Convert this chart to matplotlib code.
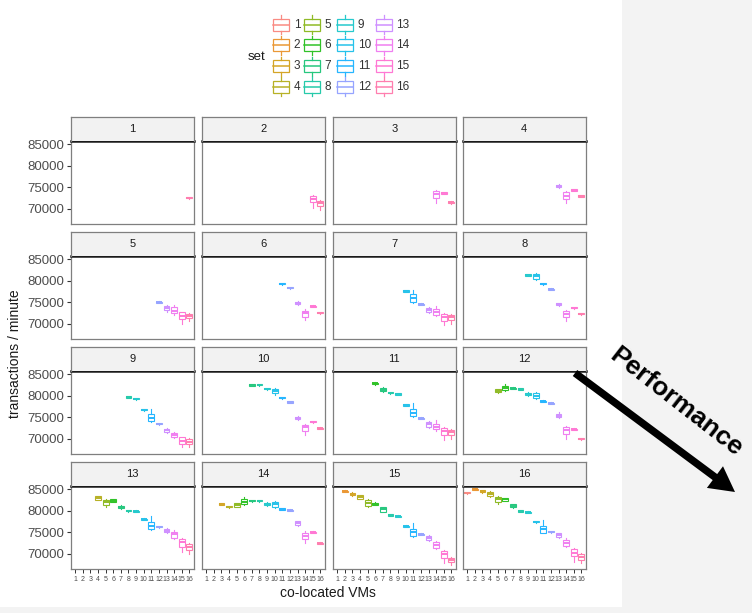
import numpy as np
import matplotlib
matplotlib.use('Agg')
import matplotlib.pyplot as plt
from matplotlib.patches import Rectangle, FancyArrow

plt.rcParams['font.family'] = ['Liberation Sans', 'DejaVu Sans']

# ---------------- data ----------------
sets = list(range(1, 17))
x_labels = [str(i) for i in sets]
y_ticks = [70000, 75000, 80000, 85000]
y_tick_labels = ['70000', '75000', '80000', '85000']
facet_labels = [str(i) for i in range(1, 17)]

# each tuple: (whisker low, q1, median, q3, whisker high); facet k holds VMs 17-k .. 16
f1 = [(72300, 72400, 72570, 72750, 72850)]
f2 = [(70080, 71640, 72180, 72960, 73190), (69700, 70700, 71250, 71870, 72030)]
f3 = [(71250, 72410, 73350, 74120, 74350), (73450, 73550, 73730, 73900, 74000),
      (71200, 71300, 71480, 71650, 71750)]
f4 = [(74900, 75050, 75290, 75550, 75700), (71250, 72180, 73030, 73810, 74120),
      (74100, 74200, 74350, 74500, 74600), (72750, 72850, 73030, 73200, 73300)]
f5 = [(74750, 74850, 74980, 75120, 75220), (72800, 73110, 73580, 74040, 74350),
      (72030, 72410, 72960, 73890, 74350), (69850, 71010, 71870, 72640, 72800),
      (70630, 71250, 71870, 72260, 72410)]
f6 = [(79100, 79200, 79330, 79450, 79550), (78170, 78270, 78400, 78520, 78620),
      (74450, 74600, 74820, 75050, 75200), (70860, 71640, 72410, 73030, 73420),
      (73900, 74000, 74120, 74250, 74350), (72350, 72450, 72570, 72700, 72800)]
f7 = [(77400, 77500, 77620, 77750, 77850), (74820, 74980, 76060, 76840, 77850),
      (74370, 74470, 74590, 74720, 74820), (72410, 72640, 73190, 73730, 73960),
      (71870, 72030, 72800, 73420, 74200), (69700, 70700, 71640, 72330, 72570),
      (69850, 70780, 71480, 72030, 72180)]
f8 = [(81130, 81230, 81350, 81480, 81580), (80180, 80340, 81110, 81660, 81890),
      (79100, 79200, 79330, 79450, 79550), (77780, 77880, 78000, 78130, 78230),
      (74150, 74300, 74510, 74750, 74900), (70630, 71560, 72330, 72960, 73190),
      (73500, 73600, 73730, 73860, 73960), (72100, 72200, 72330, 72460, 72560)]
f9 = [(79500, 79600, 79720, 79850, 79950), (79100, 79200, 79330, 79450, 79550),
      (76540, 76640, 76760, 76890, 76990), (73960, 74120, 74900, 75680, 76840),
      (73280, 73380, 73500, 73630, 73730), (71400, 71640, 72030, 72330, 72570),
      (70240, 70470, 70860, 71250, 71480), (68140, 68760, 69540, 70310, 70470),
      (67980, 68760, 69300, 69930, 70240)]
f10 = [(82290, 82390, 82510, 82640, 82740), (82370, 82470, 82590, 82720, 82820),
       (81440, 81540, 81660, 81790, 81890), (80180, 80570, 81110, 81660, 81890),
       (79340, 79440, 79560, 79690, 79790), (78330, 78430, 78550, 78680, 78780),
       (74350, 74510, 74820, 75130, 75300), (70940, 71870, 72640, 73110, 73420),
       (73740, 73840, 73960, 74090, 74190), (72270, 72370, 72490, 72620, 72720)]
f11 = [(82620, 82740, 82900, 83060, 83180), (80900, 81110, 81420, 81740, 81950),
       (80510, 80610, 80730, 80860, 80960), (80200, 80300, 80420, 80550, 80650),
       (77630, 77730, 77850, 77980, 78080), (75130, 75290, 76060, 77000, 78240),
       (74520, 74620, 74740, 74870, 74970), (72570, 72800, 73340, 73810, 74040),
       (71870, 72180, 72800, 73420, 74350), (69700, 70780, 71870, 72410, 72640),
       (69850, 70860, 71480, 72030, 72260)]
f12 = [(80700, 80880, 81190, 81500, 81650), (81190, 81350, 81890, 82280, 82670),
       (81520, 81620, 81740, 81870, 81970), (81360, 81460, 81580, 81710, 81810),
       (79950, 80110, 80420, 80730, 80880), (79260, 79410, 80030, 80570, 80800),
       (78480, 78580, 78700, 78830, 78930), (78020, 78120, 78240, 78370, 78470),
       (74820, 74980, 75370, 75750, 76300), (69930, 71090, 72030, 72650, 72960),
       (71960, 72060, 72180, 72310, 72410), (69780, 69880, 70000, 70130, 70230)]
f13 = [(82440, 82590, 83060, 83370, 83530), (80960, 81350, 81970, 82510, 82750),
       (81970, 82130, 82360, 82670, 82820), (80410, 80570, 80880, 81190, 81350),
       (79810, 79910, 80030, 80160, 80260), (79650, 79750, 79870, 80000, 80100),
       (77860, 77960, 78080, 78210, 78310), (75520, 75750, 76450, 77460, 78860),
       (76080, 76180, 76300, 76430, 76530), (74820, 74980, 75370, 75750, 75910),
       (73420, 73730, 74510, 75130, 75520), (70470, 71640, 72640, 73350, 73580),
       (69930, 70860, 71560, 72260, 72410)]
f14 = [(81360, 81460, 81580, 81710, 81810), (80740, 80840, 80960, 81090, 81190),
       (80800, 80960, 81350, 81740, 81890), (81350, 81580, 82130, 82750, 83210),
       (82140, 82240, 82360, 82490, 82590), (82140, 82240, 82360, 82490, 82590),
       (81190, 81350, 81580, 81810, 81970), (80570, 80880, 81580, 82130, 82360),
       (80200, 80300, 80420, 80550, 80650), (79890, 79990, 80110, 80240, 80340),
       (76530, 76680, 77080, 77540, 77700), (72490, 73420, 74200, 74900, 75290),
       (74760, 74860, 74980, 75110, 75210), (72270, 72370, 72490, 72620, 72720)]
f15 = [(84310, 84410, 84530, 84660, 84760), (83440, 83600, 83910, 84150, 84300),
       (82670, 82820, 83210, 83600, 83760), (80960, 81190, 81890, 82440, 82670),
       (81270, 81420, 81660, 81890, 82050), (79650, 79800, 80340, 80800, 80960),
       (78800, 78900, 79020, 79150, 79250), (78480, 78580, 78700, 78830, 78930),
       (76230, 76330, 76450, 76580, 76680), (73960, 74120, 75130, 75750, 77080),
       (74290, 74390, 74510, 74640, 74740), (73030, 73190, 73730, 74120, 74350),
       (71010, 71250, 72030, 72650, 72960), (67750, 69070, 69930, 70630, 70860),
       (67360, 67980, 68530, 69070, 69300)]
f16 = [(83930, 84030, 84150, 84280, 84380), (84780, 84880, 85000, 85130, 85230),
       (84150, 84300, 84530, 84770, 84920), (83140, 83370, 83990, 84380, 84610),
       (81580, 81970, 82670, 83210, 83370), (82200, 82360, 82670, 82900, 83060),
       (80650, 80800, 81190, 81500, 81660), (79730, 79830, 79950, 80080, 80180),
       (79420, 79520, 79640, 79770, 79870), (77240, 77340, 77460, 77590, 77690),
       (74740, 74900, 75750, 76530, 77850), (74910, 75010, 75130, 75260, 75360),
       (73580, 73890, 74350, 74740, 74900), (71630, 71870, 72570, 73110, 73580),
       (68140, 69460, 70240, 71090, 71400), (67750, 68610, 69300, 69850, 70080)]
facets = [f1, f2, f3, f4, f5, f6, f7, f8, f9, f10, f11, f12, f13, f14, f15, f16]


# ---------------- colours (ggplot2 hue palette, slightly washed as in the picture) ----------------
def hcl_hex(h, c=100.0, l=65.0, wash=0.15):
    XN, YN, ZN = 95.047, 100.0, 108.883
    hr = np.deg2rad(h)
    U, V = c * np.cos(hr), c * np.sin(hr)
    Y = YN * ((l + 16) / 116) ** 3 if l > 8 else YN * l / 903.3
    t = XN + 15 * YN + 3 * ZN
    un, vn = 4 * XN / t, 9 * YN / t
    u = U / (13 * l) + un
    v = V / (13 * l) + vn
    X = 9.0 * Y * u / (4 * v)
    Z = -X / 3 - 5 * Y + 3 * Y / v
    rgb = np.array([3.240479 * X - 1.537150 * Y - 0.498535 * Z,
                    -0.969256 * X + 1.875992 * Y + 0.041556 * Z,
                    0.055648 * X - 0.204043 * Y + 1.057311 * Z]) / YN
    out = np.where(rgb <= 0.0031308, 12.92 * rgb, 1.055 * np.abs(rgb) ** (1 / 2.4) - 0.055)
    out = np.clip(out, 0, 1)
    out = out * (1 - wash) + wash
    return '#%02X%02X%02X' % tuple(int(round(x * 255)) for x in out)


hues = np.linspace(15, 375, 17)[:16]
colors = [hcl_hex(h) for h in hues]

# ---------------- layout ----------------
W, H = 752, 613
fig = plt.figure(figsize=(W / 100, H / 100), dpi=100)
fig.patch.set_facecolor('#f3f3f3')

bg = fig.add_axes([0, 0, 1, 1], zorder=0)
bg.set_xlim(0, W)
bg.set_ylim(H, 0)
bg.axis('off')
bg.add_patch(Rectangle((0, 0), 622, 607, facecolor='white', edgecolor='none'))


def fax(left, top, w, h, **kw):
    return fig.add_axes([left / W, 1 - (top + h) / H, w / W, h / H], **kw)


col_left = [70.7, 201.7, 332.7, 462.7]
pan_w = 123.2
strip_h = 23.4
pan_h = 83.7
row_pitch = 115.0
first_panel_top = 140.7
ylim = (66370, 85840)
border = '#7f7f7f'

for k in range(16):
    r, c = divmod(k, 4)
    ptop = first_panel_top + r * row_pitch
    ax = fax(col_left[c], ptop, pan_w, pan_h, zorder=2)
    data = facets[k]
    pos = list(range(17 - len(data), 17))
    stats = [dict(whislo=d[0], q1=d[1], med=d[2], q3=d[3], whishi=d[4]) for d in data]
    arts = ax.bxp(stats, positions=pos, widths=0.75, patch_artist=True,
                  showfliers=False, showcaps=False, manage_ticks=False,
                  boxprops=dict(linewidth=0.8, facecolor='white'),
                  whiskerprops=dict(linewidth=0.8),
                  medianprops=dict(linewidth=1.4))
    for i, p in enumerate(pos):
        col = colors[p - 1]
        arts['boxes'][i].set_edgecolor(col)
        arts['medians'][i].set_color(col)
        arts['whiskers'][2 * i].set_color(col)
        arts['whiskers'][2 * i + 1].set_color(col)
    ax.set_xlim(0.4, 16.6)
    ax.set_ylim(*ylim)
    for s in ax.spines.values():
        s.set_color(border)
        s.set_linewidth(0.9)
    ax.spines['top'].set_color('#1a1a1a')
    ax.spines['top'].set_linewidth(1.8)
    ax.set_yticks(y_ticks)
    ax.set_xticks(sets)
    if c == 0:
        ax.set_yticklabels(y_tick_labels)
        ax.tick_params(axis='y', length=3, width=0.8, color='#333333',
                       labelsize=9.5, labelcolor='#4d4d4d', pad=1.5)
    else:
        ax.tick_params(axis='y', left=False, labelleft=False)
    if r == 3:
        ax.set_xticklabels(x_labels)
        ax.tick_params(axis='x', length=3, width=0.7, color='#333333',
                       labelsize=5, labelcolor='#4d4d4d', pad=2)
    else:
        ax.tick_params(axis='x', bottom=False, labelbottom=False)

    sax = fax(col_left[c], ptop - strip_h, pan_w, strip_h, zorder=2)
    sax.set_facecolor('#f2f2f2')
    sax.set_xticks([])
    sax.set_yticks([])
    for s in sax.spines.values():
        s.set_color(border)
        s.set_linewidth(0.9)
    sax.spines['bottom'].set_visible(False)
    sax.text(0.5, 0.5, facet_labels[k], ha='center', va='center',
             fontsize=8, color='#1a1a1a', transform=sax.transAxes)

# ---------------- overlay: titles, legend, arrow ----------------
ov = fig.add_axes([0, 0, 1, 1], zorder=10)
ov.set_xlim(0, W)
ov.set_ylim(H, 0)
ov.axis('off')
ov.patch.set_alpha(0)

ov.text(328, 593, 'co-located VMs', ha='center', va='center', fontsize=10, color='#1a1a1a')
ov.text(15, 354, 'transactions / minute', ha='center', va='center', rotation=90,
        fontsize=10, color='#1a1a1a')

# legend
ov.text(256.5, 57, 'set', ha='center', va='center', fontsize=9.5, color='#1a1a1a')
key_cx = [281.3, 312.3, 345.3, 383.7]
key_cy0 = 24.5
key_dy = 20.8
for i, s in enumerate(sets):
    cc, rr = divmod(i, 4)
    cx = key_cx[cc]
    cy = key_cy0 + rr * key_dy
    col = colors[i]
    ov.add_patch(Rectangle((cx - 8, cy - 6), 16, 12, facecolor='white',
                           edgecolor=col, linewidth=0.9))
    ov.plot([cx - 8, cx + 8], [cy, cy], color=col, linewidth=1.1)
    ov.plot([cx, cx], [cy - 6, cy - 9.5], color=col, linewidth=0.9)
    ov.plot([cx, cx], [cy + 6, cy + 9.5], color=col, linewidth=0.9)
    ov.text(cx + 12.5, cy, str(s), ha='left', va='center', fontsize=8.5, color='#333333')

# arrow and label
ov.add_patch(FancyArrow(575, 373, 160, 119, width=7.5, head_width=27, head_length=25,
                        length_includes_head=True, color='black', linewidth=0))
ov.text(676, 402, 'Performance', ha='center', va='center', rotation=-38,
        rotation_mode='anchor', fontsize=19, fontweight='bold', color='black')

fig.savefig('out.png', dpi=100, facecolor=fig.get_facecolor())
